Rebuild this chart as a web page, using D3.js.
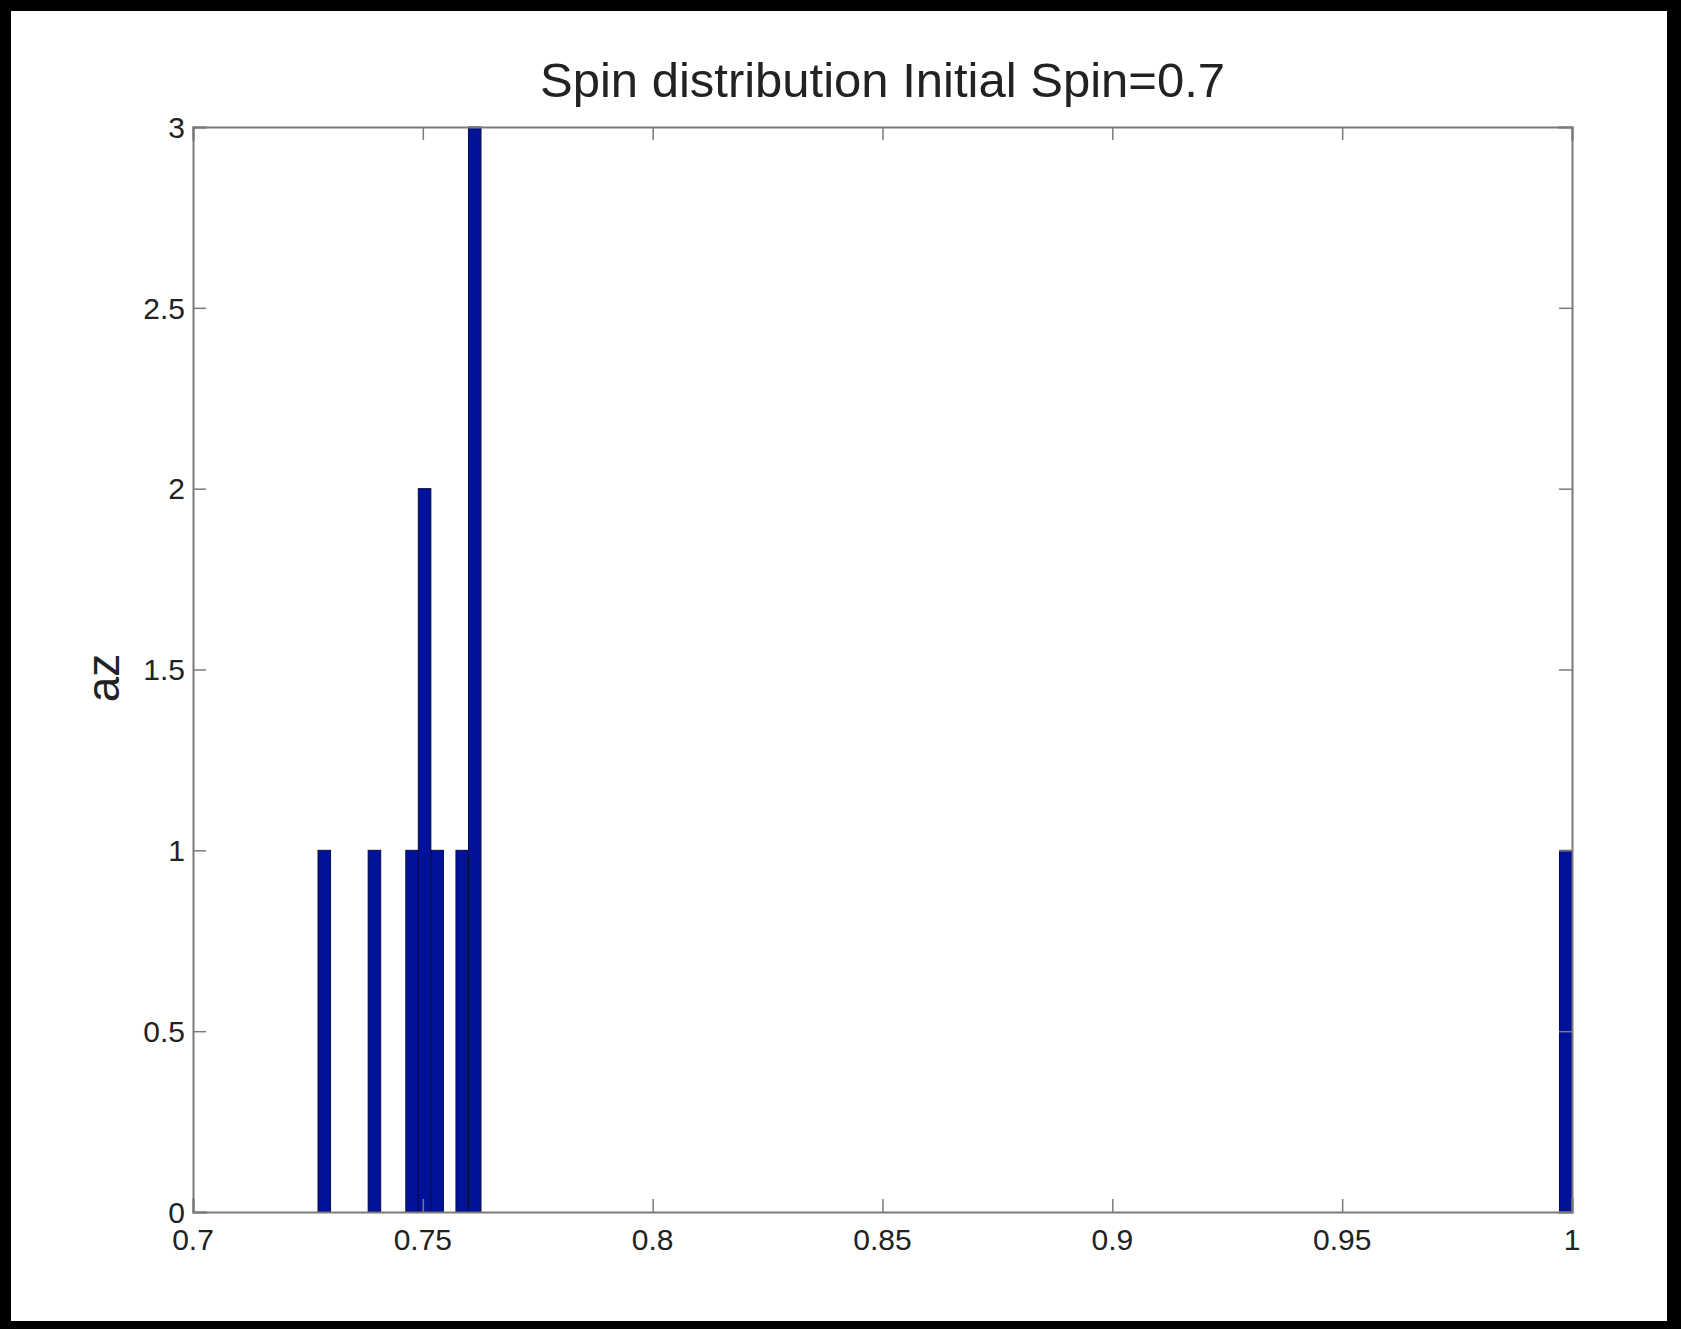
<!DOCTYPE html>
<html>
<head>
<meta charset="utf-8">
<script src="https://cdn.jsdelivr.net/npm/d3@7"></script>
<style>
  html, body { margin: 0; padding: 0; background: #000; }
  svg { display: block; }
  text { font-family: "Liberation Sans", Arial, Helvetica, sans-serif; fill: #222; }
</style>
</head>
<body>
<script>
// Histogram of final spin values (bin centres and counts)
const spinBins = [0.72856, 0.73947, 0.74766, 0.75038, 0.75311, 0.75857, 0.76129, 0.99864];
const counts   = [1, 1, 1, 2, 1, 1, 3, 1];
const binWidth = 0.002728;

const xTicks = [0.7, 0.75, 0.8, 0.85, 0.9, 0.95, 1];
const xTickLabels = ["0.7", "0.75", "0.8", "0.85", "0.9", "0.95", "1"];
const yTicks = [0, 0.5, 1, 1.5, 2, 2.5, 3];
const yTickLabels = ["0", "0.5", "1", "1.5", "2", "2.5", "3"];

const titleText = "Spin distribution Initial Spin=0.7";
const yLabelText = "az";

const W = 1681, H = 1329;
const sheet = { left: 11, top: 11, right: 1667, bottom: 1321 };
const plot = { left: 193, top: 127, right: 1572, bottom: 1212 };
const tickLen = 13;

const svg = d3.select("body").append("svg").attr("width", W).attr("height", H);

// white sheet inside the black surround
svg.append("rect")
  .attr("x", sheet.left).attr("y", sheet.top)
  .attr("width", sheet.right - sheet.left).attr("height", sheet.bottom - sheet.top)
  .attr("fill", "#fff");

const x = d3.scaleLinear().domain([0.7, 1]).range([plot.left, plot.right]);
const y = d3.scaleLinear().domain([0, 3]).range([plot.bottom, plot.top]);

// bars
const bars = spinBins.map((c, i) => ({ c, n: counts[i] }));
svg.append("g").selectAll("rect").data(bars).join("rect")
  .attr("x", d => x(d.c - binWidth / 2))
  .attr("width", d => x(d.c + binWidth / 2) - x(d.c - binWidth / 2))
  .attr("y", d => y(d.n))
  .attr("height", d => y(0) - y(d.n))
  .attr("fill", "#00129a")
  .attr("stroke", "#0a0a40")
  .attr("stroke-width", 1);

const axisColor = "#7a7a7a";

// axes box with inward ticks on all sides
const bottomAxis = d3.axisBottom(x).tickValues(xTicks).tickSize(-tickLen).tickFormat("");
const topAxis = d3.axisTop(x).tickValues(xTicks).tickSize(-tickLen).tickFormat("");
const leftAxis = d3.axisLeft(y).tickValues(yTicks).tickSize(-tickLen).tickFormat("");
const rightAxis = d3.axisRight(y).tickValues(yTicks).tickSize(-tickLen).tickFormat("");

function styleAxis(g) {
  g.selectAll("path").attr("stroke", axisColor).attr("stroke-width", 2);
  g.selectAll("line").attr("stroke", axisColor).attr("stroke-width", 1.5);
}

svg.append("g").attr("transform", `translate(0,${plot.bottom})`).call(bottomAxis).call(styleAxis);
svg.append("g").attr("transform", `translate(0,${plot.top})`).call(topAxis).call(styleAxis);
svg.append("g").attr("transform", `translate(${plot.left},0)`).call(leftAxis).call(styleAxis);
svg.append("g").attr("transform", `translate(${plot.right},0)`).call(rightAxis).call(styleAxis);

svg.selectAll(".domain").attr("stroke-linecap", "square");

// tick labels
svg.append("g").selectAll("text").data(xTicks).join("text")
  .attr("x", d => x(d))
  .attr("y", 1250)
  .attr("text-anchor", "middle")
  .attr("font-size", 30)
  .text((d, i) => xTickLabels[i]);

svg.append("g").selectAll("text").data(yTicks).join("text")
  .attr("x", plot.left - 8)
  .attr("y", d => y(d))
  .attr("dy", "0.36em")
  .attr("text-anchor", "end")
  .attr("font-size", 30)
  .text((d, i) => yTickLabels[i]);

// title
svg.append("text")
  .attr("x", (plot.left + plot.right) / 2)
  .attr("y", 97)
  .attr("text-anchor", "middle")
  .attr("font-size", 49)
  .text(titleText);

// y-axis label
svg.append("text")
  .attr("transform", `translate(119,678) rotate(-90)`)
  .attr("text-anchor", "middle")
  .attr("font-size", 46)
  .text(yLabelText);
</script>
</body>
</html>
